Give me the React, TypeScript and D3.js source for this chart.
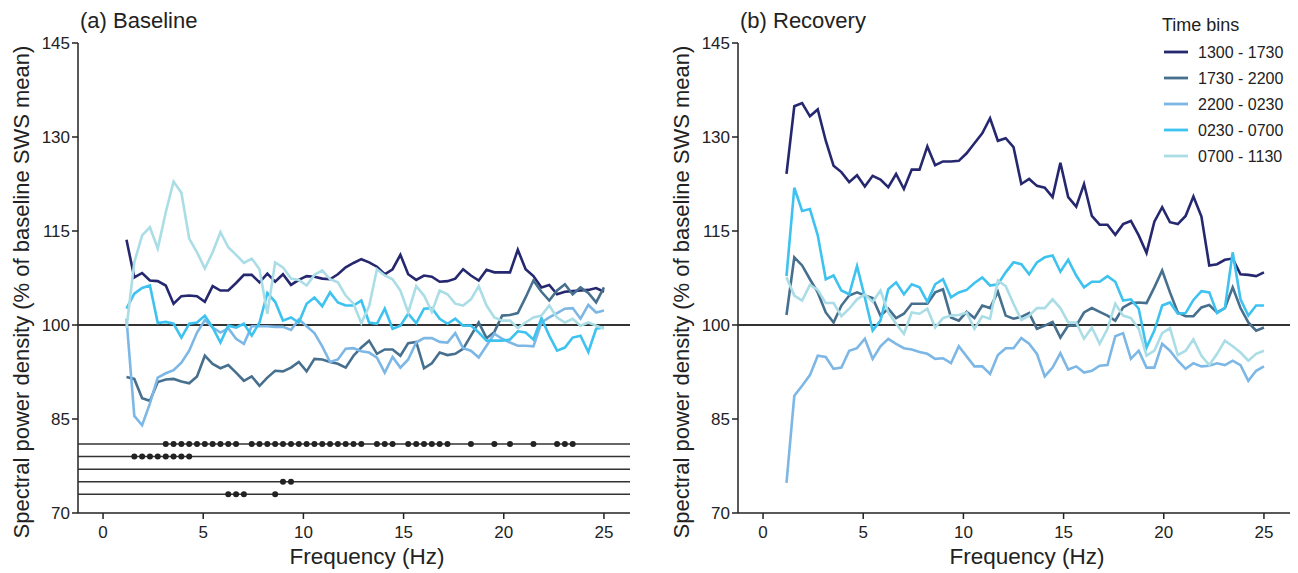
import * as d3 from "d3";

// frequency bins (Hz)
const freqs = [
  1.17, 1.56, 1.95, 2.34, 2.73, 3.13, 3.52, 3.91, 4.3, 4.69, 5.08, 5.47, 5.86, 6.25, 6.64, 7.03,
  7.42, 7.81, 8.2, 8.59, 8.98, 9.38, 9.77, 10.16, 10.55, 10.94, 11.33, 11.72, 12.11, 12.5, 12.89,
  13.28, 13.67, 14.06, 14.45, 14.84, 15.23, 15.63, 16.02, 16.41, 16.8, 17.19, 17.58, 17.97, 18.36,
  18.75, 19.14, 19.53, 19.92, 20.31, 20.7, 21.09, 21.48, 21.88, 22.27, 22.66, 23.05, 23.44, 23.83,
  24.22, 24.61, 25.0,
];

const timeBins = ["1300 - 1730", "1730 - 2200", "2200 - 0230", "0230 - 0700", "0700 - 1130"];
const binColors = ["#25286f", "#476f8e", "#7db7e5", "#3ec2ef", "#aadde6"];

// (a) Baseline
const baseline1300 = [
  113.6, 107.6, 108.3, 107.1, 107.0, 106.3, 103.4, 104.6, 104.7, 104.6, 103.7, 106.2, 105.5, 105.5,
  106.7, 108.0, 108.0, 106.8, 108.2, 106.9, 108.1, 106.4, 107.2, 107.8, 107.7, 107.4, 107.3, 108.1,
  109.2, 109.9, 110.5, 110.0, 109.3, 108.1, 108.9, 111.2, 108.1, 107.2, 107.9, 107.7, 106.9, 107.0,
  107.4, 108.9, 107.9, 107.1, 108.8, 108.4, 108.4, 108.4, 112.0, 108.9, 107.8, 106.0, 106.4, 104.9,
  105.3, 105.4, 105.5, 105.6, 105.9, 105.3,
];
const baseline1730 = [
  91.7, 91.4, 88.3, 87.9, 90.9, 91.3, 91.4, 91.0, 90.7, 91.8, 95.1, 93.8, 93.1, 93.6, 92.4, 91.1,
  91.8, 90.3, 91.6, 92.7, 92.6, 93.2, 94.1, 92.6, 94.6, 94.5, 94.1, 93.8, 93.2, 95.1, 96.4, 97.5,
  95.4, 96.1, 96.1, 95.1, 97.1, 97.3, 93.1, 93.9, 95.6, 95.2, 95.4, 96.2, 98.3, 100.4, 97.9, 98.9,
  101.5, 101.6, 101.9, 104.4, 107.1, 105.3, 103.9, 105.5, 106.5, 104.9, 106.0, 105.1, 103.6, 106.0,
];
const baseline2200 = [
  101.0, 85.5, 84.0, 87.5, 91.6, 92.3, 92.8, 94.0, 95.9, 98.8, 100.8, 99.6, 98.8, 99.5, 97.8, 97.0,
  99.8, 99.8, 99.8, 99.7, 99.7, 99.2, 100.9, 99.8, 98.7, 96.6, 94.1, 94.5, 96.2, 96.3, 95.8, 95.6,
  94.8, 92.4, 94.9, 93.2, 94.5, 97.2, 97.9, 97.9, 97.3, 97.2, 98.7, 96.3, 95.9, 94.8, 96.7, 98.6,
  97.8, 97.2, 96.7, 96.7, 96.6, 100.4, 101.2, 101.9, 102.6, 102.7, 101.0, 103.2, 102.0, 102.3,
];
const baseline0230 = [
  102.6, 105.0, 105.9, 106.3, 100.3, 100.5, 100.2, 98.0, 100.2, 100.4, 101.5, 99.6, 97.2, 99.9,
  99.6, 100.2, 98.3, 100.4, 105.1, 103.7, 100.7, 101.2, 100.4, 103.4, 104.4, 103.0, 105.2, 103.6,
  103.1, 103.1, 103.9, 100.4, 100.2, 102.6, 99.4, 99.9, 101.8, 100.3, 102.6, 102.7, 101.0, 100.2,
  101.0, 99.9, 99.9, 98.8, 97.5, 97.5, 97.5, 97.7, 99.0, 98.8, 97.7, 101.1, 98.3, 95.9, 96.4, 98.0,
  98.3, 95.7, 99.4, 99.6,
];
const baseline0700 = [
  99.5, 110.0, 114.3, 115.6, 112.2, 118.0, 122.9, 121.1, 113.8, 111.6, 109.0, 111.6, 114.8, 112.4,
  111.2, 109.9, 110.6, 108.9, 101.8, 110.0, 109.2, 107.4, 107.2, 106.3, 108.0, 108.7, 107.3, 106.8,
  104.7, 103.4, 100.3, 103.0, 108.9, 107.9, 107.3, 105.5, 102.0, 106.2, 104.7, 102.1, 105.5, 104.9,
  103.4, 103.1, 104.1, 106.2, 103.1, 101.2, 100.7, 100.7, 99.5, 100.4, 101.2, 101.5, 103.1, 101.2,
  100.4, 101.0, 99.9, 100.4, 99.9, 99.4,
];

// (b) Recovery
const recovery1300 = [
  124.1, 134.9, 135.4, 133.3, 134.4, 129.4, 125.4, 124.4, 122.8, 123.9, 122.1, 123.8, 123.2, 122.0,
  124.1, 121.7, 124.8, 124.8, 128.5, 125.5, 126.1, 126.1, 126.2, 127.4, 129.0, 130.6, 133.0, 129.4,
  129.8, 128.4, 122.5, 123.3, 122.2, 121.9, 120.4, 125.9, 120.4, 118.9, 122.5, 117.4, 116.0, 116.0,
  114.4, 116.1, 116.6, 114.3, 111.5, 116.5, 118.8, 116.4, 116.1, 117.4, 120.5, 117.3, 109.5, 109.7,
  110.4, 110.6, 108.1, 108.0, 107.8, 108.4,
];
const recovery1730 = [
  101.6, 110.8, 109.5, 107.3, 105.2, 102.0, 100.4, 103.1, 104.7, 105.2, 104.7, 104.3, 101.5, 102.6,
  101.1, 101.8, 103.4, 103.4, 103.4, 105.2, 105.7, 101.2, 100.7, 102.1, 101.1, 103.1, 102.7, 105.3,
  101.5, 101.0, 101.3, 101.9, 99.4, 99.9, 100.5, 98.0, 99.9, 99.9, 102.0, 102.7, 102.1, 101.5,
  100.7, 102.8, 103.5, 103.6, 103.5, 106.0, 108.7, 105.2, 102.0, 101.4, 101.4, 102.8, 103.2, 102.0,
  102.7, 106.0, 102.7, 100.4, 99.1, 99.6,
];
const recovery2200 = [
  74.8, 88.7, 90.3, 92.0, 95.1, 94.9, 93.0, 93.2, 95.9, 96.3, 97.8, 94.6, 96.6, 97.8, 97.0, 96.3,
  96.1, 95.7, 95.4, 94.6, 94.7, 93.9, 96.6, 95.0, 93.4, 93.4, 92.2, 95.2, 96.3, 96.3, 97.9, 97.0,
  95.4, 91.8, 93.2, 95.5, 92.9, 93.4, 92.4, 92.7, 93.5, 93.6, 98.2, 98.7, 94.6, 95.9, 93.2, 93.2,
  97.0, 95.9, 94.3, 93.0, 93.9, 93.4, 93.5, 93.9, 93.6, 94.3, 93.6, 91.1, 92.7, 93.4,
];
const recovery0230 = [
  107.8, 121.9, 118.2, 118.5, 114.3, 107.3, 107.9, 105.5, 104.9, 109.4, 104.4, 99.1, 100.7, 105.7,
  106.8, 104.9, 106.5, 106.0, 103.7, 106.5, 107.3, 104.4, 105.2, 105.6, 106.7, 107.6, 106.3, 106.5,
  108.4, 110.0, 109.7, 108.1, 110.0, 110.8, 111.1, 108.5, 110.4, 107.9, 106.0, 106.9, 106.9, 107.8,
  106.9, 103.9, 104.1, 102.6, 96.4, 99.1, 103.1, 103.6, 101.8, 101.9, 104.0, 105.4, 105.2, 101.9,
  102.7, 111.6, 104.1, 101.5, 103.1, 103.1,
];
const recovery0700 = [
  107.6, 104.7, 103.9, 106.4, 105.6, 103.5, 103.5, 101.4, 102.6, 104.1, 104.9, 103.7, 105.5, 102.0,
  100.2, 98.6, 102.0, 101.8, 102.6, 99.6, 101.1, 101.5, 101.6, 102.0, 99.4, 101.4, 101.0, 107.1,
  106.2, 103.4, 100.8, 101.5, 102.7, 102.7, 104.1, 102.7, 100.4, 100.4, 97.8, 99.6, 97.0, 99.4,
  103.4, 101.5, 101.1, 99.4, 95.1, 95.9, 98.7, 99.5, 95.2, 95.9, 97.7, 95.1, 93.6, 95.4, 97.5, 96.6,
  95.6, 94.3, 95.4, 95.9,
];

const baselineSeries = [baseline1300, baseline1730, baseline2200, baseline0230, baseline0700];
const recoverySeries = [recovery1300, recovery1730, recovery2200, recovery0230, recovery0700];

// significance rows under panel (a): row level and frequencies with a dot
const sigLevels = [81, 79, 77, 75, 73];
const sigRow1 = [
  3.13, 3.52, 3.91, 4.3, 4.69, 5.08, 5.47, 5.86, 6.25, 6.64, 7.42, 7.81, 8.2, 8.59, 8.98, 9.38,
  9.77, 10.16, 10.55, 10.94, 11.33, 11.72, 12.11, 12.5, 12.89, 13.67, 14.06, 14.45, 15.23, 15.63,
  16.02, 16.41, 16.8, 17.19, 18.36, 19.53, 20.31, 21.48, 22.66, 23.05, 23.44,
];
const sigRow2 = [1.56, 1.95, 2.34, 2.73, 3.13, 3.52, 3.91, 4.3];
const sigRow3: number[] = [];
const sigRow4 = [8.98, 9.38];
const sigRow5 = [6.25, 6.64, 7.03, 8.59];
const sigRows = [sigRow1, sigRow2, sigRow3, sigRow4, sigRow5];

const xTicks = [0, 5, 10, 15, 20, 25];
const yTicks = [70, 85, 100, 115, 130, 145];

const FONT = "'Liberation Sans', Arial, Helvetica, sans-serif";
const W = 1298;
const H = 573;
const TOP = 43;
const BOTTOM = 513;
const PLOT_W = 552;

function Panel({ left, title, series, showSig }) {
  const x = d3.scaleLinear().domain([-1.25, 26.3]).range([left, left + PLOT_W]);
  const y = d3.scaleLinear().domain([70, 145]).range([BOTTOM, TOP]);
  const line = d3
    .line<number>()
    .x((_, i) => x(freqs[i]))
    .y((d) => y(d));

  return (
    <g>
      <text x={left + 2} y={28} fontSize={22} fill="#222">
        {title}
      </text>

      {/* y axis */}
      <line x1={left} x2={left} y1={TOP} y2={BOTTOM} stroke="#222" strokeWidth={1.5} />
      {yTicks.map((t) => (
        <g key={t}>
          <line x1={left - 6} x2={left} y1={y(t)} y2={y(t)} stroke="#222" strokeWidth={1.5} />
          <text x={left - 8} y={y(t)} dy="0.35em" textAnchor="end" fontSize={17} fill="#222">
            {t}
          </text>
        </g>
      ))}

      {/* x axis */}
      <line x1={left} x2={left + PLOT_W} y1={BOTTOM} y2={BOTTOM} stroke="#222" strokeWidth={1.5} />
      {xTicks.map((t) => (
        <g key={t}>
          <line x1={x(t)} x2={x(t)} y1={BOTTOM} y2={BOTTOM + 6} stroke="#222" strokeWidth={1.5} />
          <text x={x(t)} y={BOTTOM + 25} textAnchor="middle" fontSize={17} fill="#222">
            {t}
          </text>
        </g>
      ))}
      <text x={left + 289} y={564} textAnchor="middle" fontSize={22.5} fill="#222">
        Frequency (Hz)
      </text>
      <text
        transform={`translate(${left - 57},${292}) rotate(-90)`}
        textAnchor="middle"
        dy="0.35em"
        fontSize={22}
        fill="#222"
      >
        Spectral power density (% of baseline SWS mean)
      </text>

      {/* 100% reference */}
      <line x1={left} x2={left + PLOT_W} y1={y(100)} y2={y(100)} stroke="#333" strokeWidth={2} />

      {showSig &&
        sigLevels.map((lv, r) => (
          <g key={lv}>
            <line x1={left} x2={left + PLOT_W} y1={y(lv)} y2={y(lv)} stroke="#333" strokeWidth={1.5} />
            {sigRows[r].map((f) => (
              <circle key={f} cx={x(f)} cy={y(lv)} r={3} fill="#222" />
            ))}
          </g>
        ))}

      {series.map((vals, i) => (
        <path
          key={i}
          d={line(vals) || ""}
          fill="none"
          stroke={binColors[i]}
          strokeWidth={2.6}
          strokeLinejoin="miter"
        />
      ))}
    </g>
  );
}

export default function App() {
  return (
    <svg
      width={W}
      height={H}
      style={{ position: "absolute", left: 0, top: 0, background: "#fff" }}
      fontFamily={FONT}
    >
      <Panel left={78} title="(a) Baseline" series={baselineSeries} showSig={true} />
      <Panel left={738} title="(b) Recovery" series={recoverySeries} showSig={false} />

      {/* legend */}
      <text x={1162} y={31} fontSize={18} fill="#222">
        Time bins
      </text>
      {timeBins.map((b, i) => (
        <g key={b} transform={`translate(1164,${52 + i * 26})`}>
          <line x1={0} x2={24} y1={0} y2={0} stroke={binColors[i]} strokeWidth={2.8} />
          <text x={34} y={0} dy="0.35em" fontSize={16} fill="#222">
            {b}
          </text>
        </g>
      ))}
    </svg>
  );
}
